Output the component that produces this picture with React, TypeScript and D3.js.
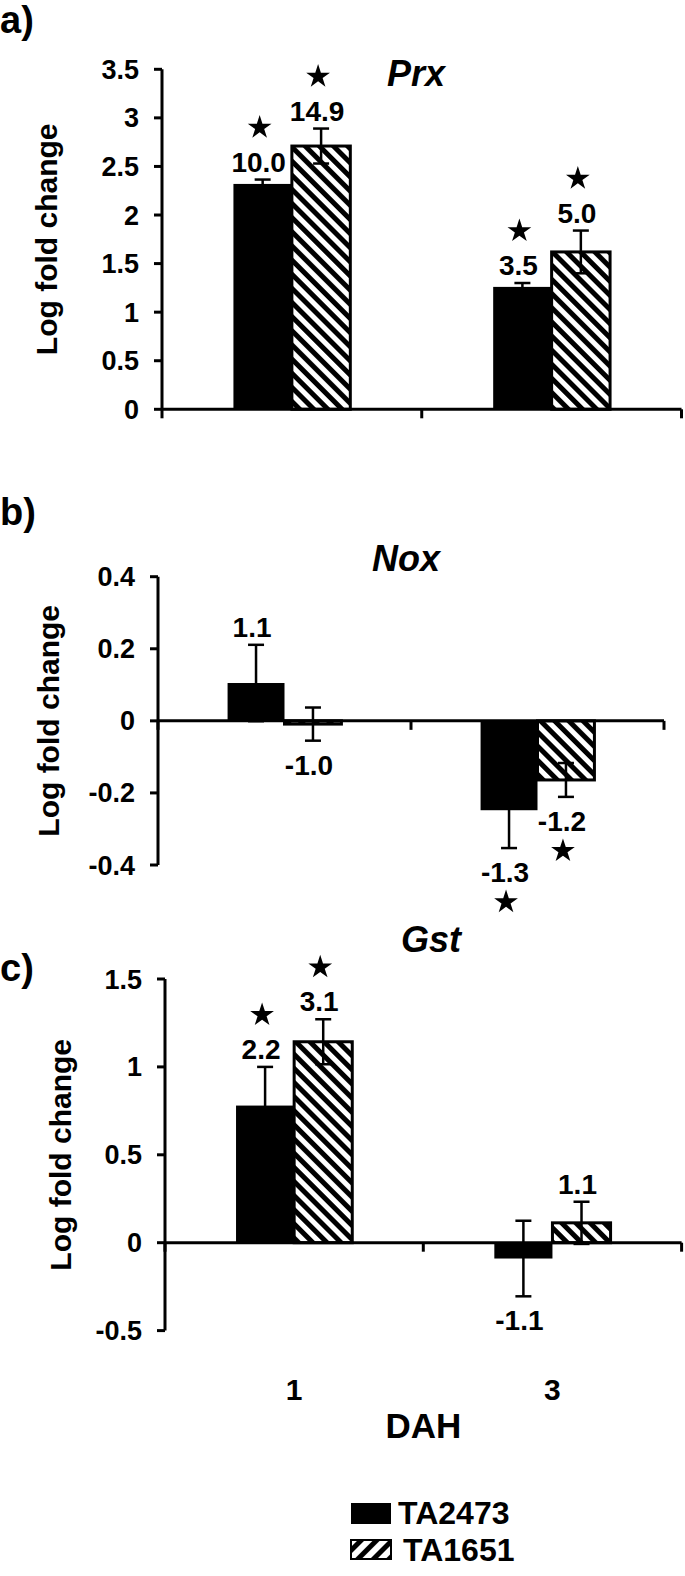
import React from "react";
import * as d3 from "d3";

// ---------- data ----------
const categories = ["1", "3"];
const seriesNames = ["TA2473", "TA1651"];

const prxTA2473 = [2.32, 1.26];
const prxTA2473Err = [0.045, 0.04];
const prxTA1651 = [2.71, 1.62];
const prxTA1651Err = [0.18, 0.22];
const prxLabels2473 = ["10.0", "3.5"];
const prxLabels1651 = ["14.9", "5.0"];
const prxSig2473 = [true, true];
const prxSig1651 = [true, true];

const noxTA2473 = [0.105, -0.248];
const noxTA2473Err = [0.106, 0.105];
const noxTA1651 = [-0.009, -0.164];
const noxTA1651Err = [0.046, 0.047];
const noxLabels2473 = ["1.1", "-1.3"];
const noxLabels1651 = ["-1.0", "-1.2"];
const noxSig2473 = [false, true];
const noxSig1651 = [false, true];

const gstTA2473 = [0.78, -0.09];
const gstTA2473Err = [0.22, 0.215];
const gstTA1651 = [1.143, 0.113];
const gstTA1651Err = [0.128, 0.12];
const gstLabels2473 = ["2.2", "-1.1"];
const gstLabels1651 = ["3.1", "1.1"];
const gstSig2473 = [true, false];
const gstSig1651 = [true, false];

const prxTicks = [0, 0.5, 1, 1.5, 2, 2.5, 3, 3.5];
const noxTicks = [-0.4, -0.2, 0, 0.2, 0.4];
const gstTicks = [-0.5, 0, 0.5, 1, 1.5];

const xTitle = "DAH";
const yTitle = "Log fold change";

// ---------- layout ----------
const W = 685;
const H = 1576;
const FONT = "'Liberation Sans', Arial, Helvetica, sans-serif";

type Panel = {
  letter: string;
  letterY: number;
  title: string;
  titleX: number;
  titleY: number;
  axisX: number;
  axisRight: number;
  yTop: number;
  yBottom: number;
  domain: [number, number];
  ticks: number[];
  yTitleX: number;
  values: number[][];
  errs: number[][];
  labels: string[][];
  sig: boolean[][];
};

const panels: Panel[] = [
  {
    letter: "a)", letterY: 33, title: "Prx", titleX: 416, titleY: 86,
    axisX: 162, axisRight: 681.5, yTop: 69.3, yBottom: 409.3, domain: [0, 3.5],
    ticks: prxTicks, yTitleX: 57,
    values: [prxTA2473, prxTA1651], errs: [prxTA2473Err, prxTA1651Err],
    labels: [prxLabels2473, prxLabels1651], sig: [prxSig2473, prxSig1651],
  },
  {
    letter: "b)", letterY: 525, title: "Nox", titleX: 406, titleY: 571,
    axisX: 158, axisRight: 664, yTop: 576.7, yBottom: 865, domain: [-0.4, 0.4],
    ticks: noxTicks, yTitleX: 59,
    values: [noxTA2473, noxTA1651], errs: [noxTA2473Err, noxTA1651Err],
    labels: [noxLabels2473, noxLabels1651], sig: [noxSig2473, noxSig1651],
  },
  {
    letter: "c)", letterY: 981, title: "Gst", titleX: 431, titleY: 952,
    axisX: 165, axisRight: 681.6, yTop: 979, yBottom: 1330.6, domain: [-0.5, 1.5],
    ticks: gstTicks, yTitleX: 71,
    values: [gstTA2473, gstTA1651], errs: [gstTA2473Err, gstTA1651Err],
    labels: [gstLabels2473, gstLabels1651], sig: [gstSig2473, gstSig1651],
  },
];

const starPath = d3.symbol().type(d3.symbolStar).size(175)() as string;

function PanelView({ p, showX }: { p: Panel; showX: boolean }) {
  const x = d3.scaleBand<string>().domain(categories).range([p.axisX, p.axisRight]).padding(0);
  const bw = x.bandwidth();
  const y = d3.scaleLinear().domain(p.domain).range([p.yBottom, p.yTop]);
  const y0 = y(0);
  const inner = d3
    .scaleBand<string>()
    .domain(seriesNames)
    .range([bw * 0.275, bw * 0.725])
    .padding(0);
  const barW = inner.bandwidth();
  const boundaries = [p.axisX, ...categories.map((c) => (x(c) as number) + bw)];

  return (
    <g>
      <text x={0} y={p.letterY} fontSize={38} fontWeight="bold" fontFamily={FONT}>
        {p.letter}
      </text>
      <text
        x={p.titleX}
        y={p.titleY}
        fontSize={36}
        fontWeight="bold"
        fontStyle="italic"
        textAnchor="middle"
        fontFamily={FONT}
      >
        {p.title}
      </text>
      <text
        transform={`translate(${p.yTitleX},${(p.yTop + p.yBottom) / 2}) rotate(-90)`}
        fontSize={30}
        fontWeight="bold"
        textAnchor="middle"
        fontFamily={FONT}
      >
        {yTitle}
      </text>

      {/* bars */}
      {seriesNames.map((s, si) =>
        categories.map((c, ci) => {
          const v = p.values[si][ci];
          const bx = (x(c) as number) + (inner(s) as number);
          const top = Math.min(y(v), y0);
          const h = Math.abs(y(v) - y0);
          return (
            <rect
              key={`bar-${s}-${c}`}
              x={bx}
              y={top}
              width={barW}
              height={h}
              fill={si === 0 ? "#000" : "url(#hatchBar)"}
              stroke="#000"
              strokeWidth={si === 0 ? 0 : 3}
            />
          );
        })
      )}

      {/* error bars */}
      {seriesNames.map((s, si) =>
        categories.map((c, ci) => {
          const v = p.values[si][ci];
          const e = p.errs[si][ci];
          const cx = (x(c) as number) + (inner(s) as number) + barW / 2;
          const yt = y(v + e);
          const yb = y(v - e);
          return (
            <g key={`err-${s}-${c}`} stroke="#000" strokeWidth={2.5}>
              <line x1={cx} x2={cx} y1={yt} y2={yb} />
              <line x1={cx - 8} x2={cx + 8} y1={yt} y2={yt} />
              <line x1={cx - 8} x2={cx + 8} y1={yb} y2={yb} />
            </g>
          );
        })
      )}

      {/* axes */}
      <line x1={p.axisX} x2={p.axisX} y1={p.yTop} y2={p.yBottom} stroke="#000" strokeWidth={3} />
      {p.ticks.map((t) => (
        <g key={`yt-${t}`}>
          <line x1={p.axisX - 8} x2={p.axisX} y1={y(t)} y2={y(t)} stroke="#000" strokeWidth={3} />
          <text
            x={p.axisX - 23}
            y={y(t) + 9.5}
            fontSize={27}
            fontWeight="bold"
            textAnchor="end"
            fontFamily={FONT}
          >
            {String(t)}
          </text>
        </g>
      ))}
      <line x1={p.axisX} x2={p.axisRight} y1={y0} y2={y0} stroke="#000" strokeWidth={3} />
      {boundaries.map((bx, i) => (
        <line key={`xt-${i}`} x1={bx} x2={bx} y1={y0} y2={y0 + 9} stroke="#000" strokeWidth={3} />
      ))}

      {/* value labels and significance stars */}
      {seriesNames.map((s, si) =>
        categories.map((c, ci) => {
          const v = p.values[si][ci];
          const e = p.errs[si][ci];
          const cx = (x(c) as number) + (inner(s) as number) + barW / 2;
          const pos = v >= 0;
          const base = pos ? y(v + e) - 8 : y(v - e) + 34;
          const starY = pos ? base - 44 : base + 20;
          return (
            <g key={`lab-${s}-${c}`}>
              <text
                x={cx - 4}
                y={base}
                fontSize={28}
                fontWeight="bold"
                textAnchor="middle"
                fontFamily={FONT}
              >
                {p.labels[si][ci]}
              </text>
              {p.sig[si][ci] && (
                <path d={starPath} transform={`translate(${cx - 3},${starY})`} fill="#000" />
              )}
            </g>
          );
        })
      )}

      {showX &&
        categories.map((c) => (
          <text
            key={`xl-${c}`}
            x={(x(c) as number) + bw / 2}
            y={1400}
            fontSize={30}
            fontWeight="bold"
            textAnchor="middle"
            fontFamily={FONT}
          >
            {c}
          </text>
        ))}
      {showX && (
        <text
          x={(p.axisX + p.axisRight) / 2}
          y={1438}
          fontSize={35}
          fontWeight="bold"
          textAnchor="middle"
          fontFamily={FONT}
        >
          {xTitle}
        </text>
      )}
    </g>
  );
}

export default function App() {
  const legendY = [1503, 1540];
  return (
    <svg
      width={W}
      height={H}
      viewBox={`0 0 ${W} ${H}`}
      style={{ position: "absolute", left: 0, top: 0, background: "#fff" }}
    >
      <defs>
        <pattern
          id="hatchBar"
          patternUnits="userSpaceOnUse"
          width={10}
          height={10}
          patternTransform="rotate(-45)"
        >
          <rect width={10} height={10} fill="#fff" />
          <rect x={0} y={0} width={5} height={10} fill="#000" />
        </pattern>
        <pattern
          id="hatchLegend"
          patternUnits="userSpaceOnUse"
          width={11}
          height={11}
          patternTransform="rotate(45)"
        >
          <rect width={11} height={11} fill="#fff" />
          <rect x={0} y={0} width={5} height={11} fill="#000" />
        </pattern>
      </defs>
      <rect width={W} height={H} fill="#fff" />
      {panels.map((p, i) => (
        <PanelView key={p.letter} p={p} showX={i === panels.length - 1} />
      ))}
      {seriesNames.map((s, i) => (
        <g key={`leg-${s}`}>
          <rect
            x={351}
            y={legendY[i]}
            width={40}
            height={i === 0 ? 21 : 19}
            fill={i === 0 ? "#000" : "url(#hatchLegend)"}
            stroke="#000"
            strokeWidth={i === 0 ? 0 : 2}
          />
          <text
            x={i === 0 ? 398 : 403}
            y={legendY[i] + 21}
            fontSize={32}
            fontWeight="bold"
            fontFamily={FONT}
          >
            {s}
          </text>
        </g>
      ))}
    </svg>
  );
}
